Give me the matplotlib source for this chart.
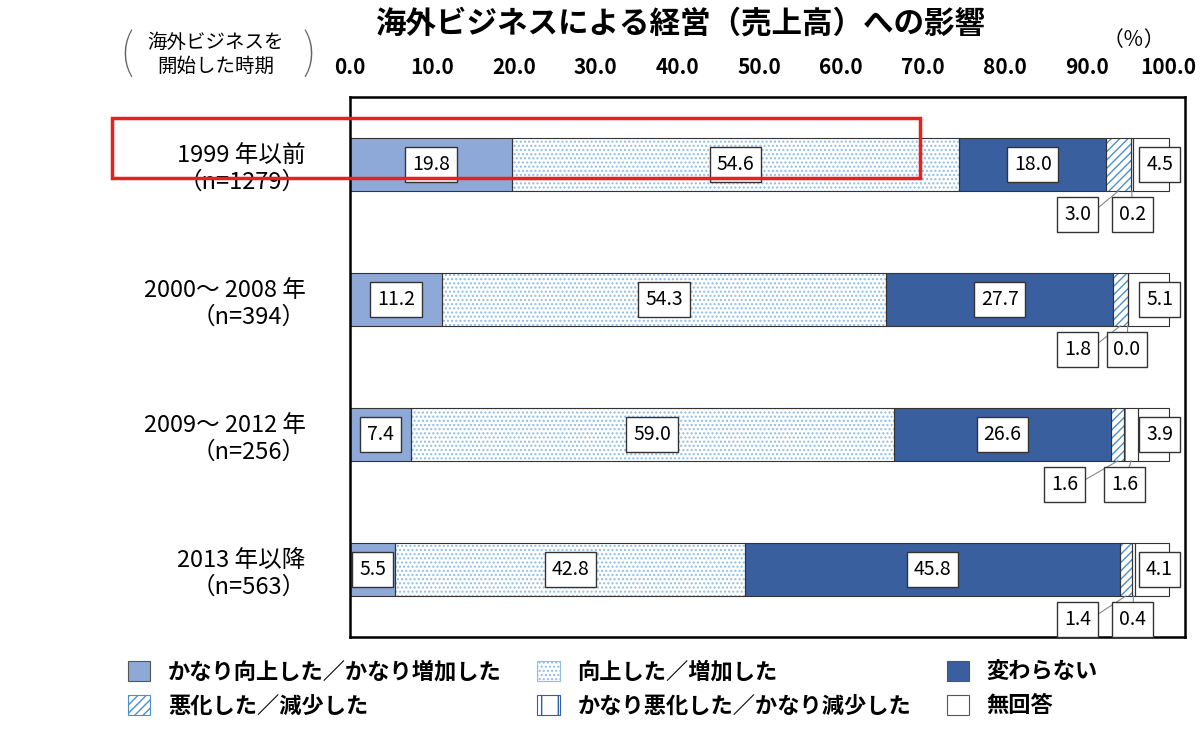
import numpy as np
import matplotlib.pyplot as plt
from matplotlib.patches import Patch, Rectangle

plt.rcParams["font.family"] = "Noto Sans CJK JP"
plt.rcParams["hatch.linewidth"] = 1.0

categories = ["1999 年以前\n（n=1279）", "2000～ 2008 年\n（n=394）",
              "2009～ 2012 年\n（n=256）", "2013 年以降\n（n=563）"]
series_names = ["かなり向上した／かなり増加した", "向上した／増加した", "変わらない",
                "悪化した／減少した", "かなり悪化した／かなり減少した", "無回答"]
v_much_up = [19.8, 11.2, 7.4, 5.5]
v_up = [54.6, 54.3, 59.0, 42.8]
v_same = [18.0, 27.7, 26.6, 45.8]
v_down = [3.0, 1.8, 1.6, 1.4]
v_much_down = [0.2, 0.0, 1.6, 0.4]
v_na = [4.5, 5.1, 3.9, 4.1]
xticks = np.arange(0, 101, 10)

series = [v_much_up, v_up, v_same, v_down, v_much_down, v_na]
faces = ["#8EA9D8", "white", "#3A5F9F", "white", "white", "white"]
hatches = [None, "....", None, "////", "|", None]
hcols = ["#333333", "#8DBDE8", "#333333", "#4A8FD0", "#2E5FA8", "#333333"]

fig = plt.figure(figsize=(12, 7.3), dpi=100)
ax = fig.add_axes([350/1200, 1-637/730, 835/1200, 540/730])
y = np.arange(len(categories))
h = 0.39
left = np.zeros(len(categories))
for vals, fc, ht, hc in zip(series, faces, hatches, hcols):
    ax.barh(y, vals, left=left, height=h, color=fc, hatch=ht,
            edgecolor=hc if ht else "#333333", lw=0)
    left += np.array(vals)
# outline of segments
left = np.zeros(len(categories))
for vals in series:
    ax.barh(y, vals, left=left, height=h, fill=False, edgecolor="#333333", lw=0.8)
    left += np.array(vals)

box = dict(boxstyle="square,pad=0.35", fc="white", ec="#333333", lw=1)
small_x = [(88.9, 95.6), (88.9, 94.9), (87.3, 94.6), (88.9, 95.6)]
fs = 14
for i in y:
    cum = np.cumsum([s[i] for s in series])
    starts = cum - np.array([s[i] for s in series])
    for k in range(3):
        ax.text(starts[k] + series[k][i] / 2 if k else max(starts[k] + series[k][i] / 2, 1.8),
                i, f"{series[k][i]:.1f}", ha="center", va="center", fontsize=fs, bbox=box)
    for k, xs in zip((3, 4), small_x[i]):
        mid = starts[k] + series[k][i] / 2
        ax.plot([mid, xs + (1.5 if k == 3 else 0)], [i + h / 2, i + 0.37], color="#888888", lw=0.8)
        ax.text(xs, i + 0.37, f"{series[k][i]:.1f}", ha="center", va="center", fontsize=fs, bbox=box)
    ax.text(98.9, i, f"{series[5][i]:.1f}", ha="center", va="center", fontsize=fs, bbox=box)

ax.set_xlim(0, 102)
ax.set_ylim(3.5, -0.5)
ax.xaxis.tick_top()
ax.set_xticks(xticks)
ax.set_xticklabels([f"{t:.1f}" for t in xticks], fontsize=15, fontweight="bold")
ax.tick_params(length=0, pad=14)
ax.set_yticks(y)
ax.set_yticklabels(categories, fontsize=17, linespacing=1.2)
ax.tick_params(axis="y", pad=32)
for lab in ax.get_yticklabels():
    lab.set_horizontalalignment("right")
for sp in ax.spines.values():
    sp.set_linewidth(1.8)

fig.text(0.567, 0.968, "海外ビジネスによる経営（売上高）への影響", ha="center", va="center",
         fontsize=22, fontweight="bold")
fig.text(0.945, 0.945, "（％）", ha="center", va="center", fontsize=15)
fig.text(0.18, 0.925, "海外ビジネスを\n開始した時期", ha="center", va="center", fontsize=14,
         linespacing=1.2)
fig.text(0.105, 0.925, "(", ha="center", va="center", fontsize=34, color="#666666", fontweight="light")
fig.text(0.258, 0.925, ")", ha="center", va="center", fontsize=34, color="#666666", fontweight="light")
fig.patches.append(Rectangle((112/1200, 1-178/730), 808/1200, 60/730, transform=fig.transFigure,
                             fill=False, ec="#E8211D", lw=2.5))

handles = [Patch(facecolor=fc, hatch=ht, edgecolor=hc if ht else "#555555", lw=0.8)
           for fc, ht, hc in zip(faces, hatches, hcols)]
order = [0, 3, 1, 4, 2, 5]
fig.legend([handles[i] for i in order], [series_names[i] for i in order], ncol=3,
           loc="lower left", bbox_to_anchor=(0.09, -0.01), frameon=False,
           prop={"size": 16, "weight": "bold"}, columnspacing=1.6, handlelength=1.0,
           handleheight=1.0, labelspacing=0.5)

fig.savefig("out.png", dpi=100)
